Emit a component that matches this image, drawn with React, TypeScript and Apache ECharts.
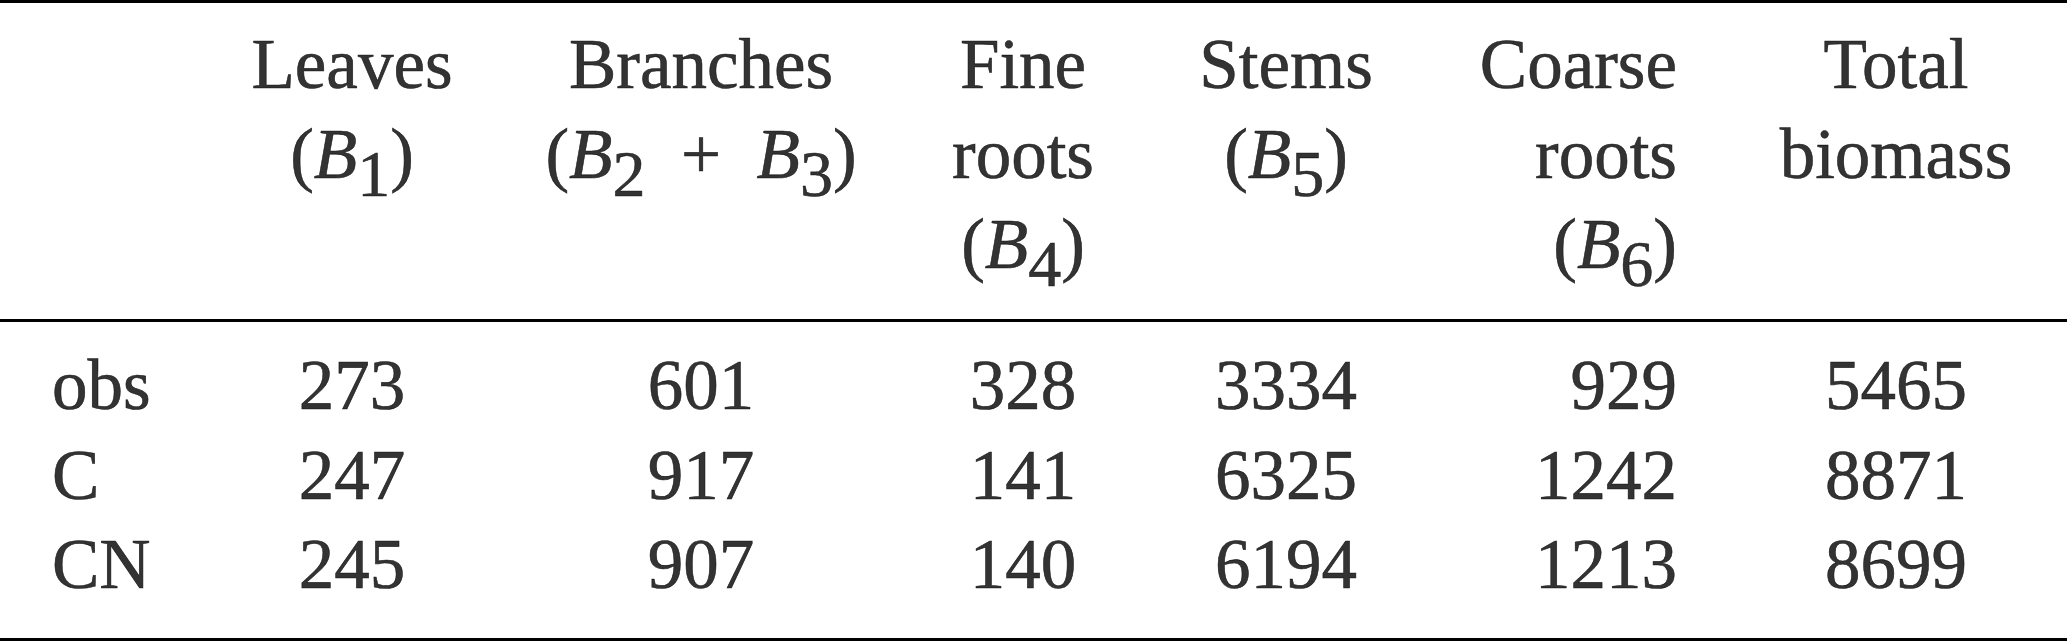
import React, { useEffect, useRef } from 'react';
import * as echarts from 'echarts';

const rowLabels = ['obs', 'C', 'CN'];
const leaves = [273, 247, 245];
const branches = [601, 917, 907];
const fineRoots = [328, 141, 140];
const stems = [3334, 6325, 6194];
const coarseRoots = [929, 1242, 1213];
const totalBiomass = [5465, 8871, 8699];

// B_n = italic B with subscript n
const headerLeaves = ['Leaves', '(B_1)'];
const headerBranches = ['Branches', '(B_2\u2002+\u2002B_3)'];
const headerFineRoots = ['Fine', 'roots', '(B_4)'];
const headerStems = ['Stems', '(B_5)'];
const headerCoarseRoots = ['Coarse', 'roots', '(B_6)'];
const headerTotal = ['Total', 'biomass'];

const W = 2067;
const H = 642;
const FONT = "'Liberation Serif', 'Times New Roman', serif";
const FS = 71;

const App: React.FC = () => {
  const chartRef = useRef<HTMLDivElement>(null);

  useEffect(() => {
    if (!chartRef.current) return;
    const chart = echarts.init(chartRef.current, null, { renderer: 'svg' });

    // layout: column anchors (x) and row centres (y) in pixels
    const rowY = [385, 475, 564];
    const headerTop = 19;
    const columns = [
      { x: 52, align: 'left', header: [] as string[], values: rowLabels as any[] },
      { x: 352, align: 'center', header: headerLeaves, values: leaves },
      { x: 701, align: 'center', header: headerBranches, values: branches },
      { x: 1023, align: 'center', header: headerFineRoots, values: fineRoots },
      { x: 1286, align: 'center', header: headerStems, values: stems },
      { x: 1677, align: 'right', header: headerCoarseRoots, values: coarseRoots },
      { x: 1896, align: 'center', header: headerTotal, values: totalBiomass },
    ];

    const toRich = (line: string) => line.replace(/B_(\d)/g, '{i|B}{s|$1}');

    const baseLabel = {
      show: true,
      position: 'inside',
      color: '#000',
      fontFamily: FONT,
      fontSize: FS,
      textBorderColor: '#000',
      textBorderWidth: 0.6,
    };

    const series: any[] = columns.map((col) => ({
      type: 'scatter',
      symbolSize: 1,
      itemStyle: { color: 'rgba(0,0,0,0)' },
      silent: true,
      label: {
        ...baseLabel,
        align: col.align,
        verticalAlign: 'middle',
        formatter: (p: any) => String(p.data[2]),
      },
      data: col.values.map((v, i) => [col.x, rowY[i], v]),
    }));

    series.push({
      type: 'scatter',
      symbolSize: 1,
      itemStyle: { color: 'rgba(0,0,0,0)' },
      silent: true,
      data: columns
        .filter((c) => c.header.length)
        .map((c) => ({
          value: [c.x, headerTop],
          label: {
            ...baseLabel,
            align: c.align,
            verticalAlign: 'top',
            lineHeight: 90,
            formatter: c.header.map(toRich).join('\n'),
            rich: {
              i: {
                fontFamily: FONT, fontSize: FS, fontStyle: 'italic', lineHeight: 90,
                textBorderColor: '#000', textBorderWidth: 0.6,
              },
              s: {
                fontFamily: FONT, fontSize: 66, lineHeight: 90, height: 52, verticalAlign: 'bottom',
                textBorderColor: '#000', textBorderWidth: 0.6,
              },
            },
          },
        })),
      markLine: {
        silent: true,
        symbol: 'none',
        label: { show: false },
        lineStyle: { color: '#000', width: 3, type: 'solid' },
        data: [{ yAxis: 1.5 }, { yAxis: 320.5 }, { yAxis: 639.5 }],
      },
    });

    chart.setOption({
      animation: false,
      grid: { left: 0, right: 0, top: 0, bottom: 0 },
      xAxis: { type: 'value', min: 0, max: W, show: false },
      yAxis: { type: 'value', min: 0, max: H, inverse: true, show: false },
      series,
    });

    return () => {
      chart.dispose();
    };
  }, []);

  return (
    <div
      ref={chartRef}
      style={{ position: 'fixed', left: 0, top: 0, width: `${W}px`, height: `${H}px`, background: '#fff' }}
    />
  );
};

export default App;
